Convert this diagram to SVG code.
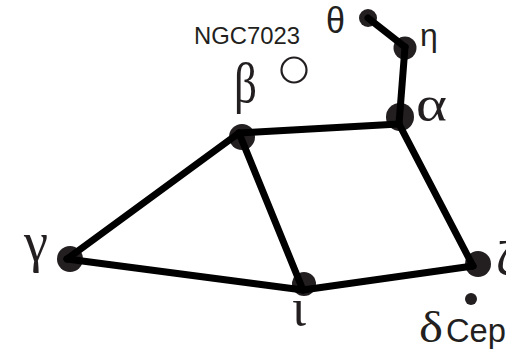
<svg xmlns="http://www.w3.org/2000/svg" width="506" height="353" viewBox="0 0 506 353">
<style>
.star{fill:#231f20}
.edge{stroke:#000;stroke-width:7;stroke-linecap:round;stroke-linejoin:round;fill:none}
.gr{font-family:"Liberation Serif","DejaVu Serif",serif;fill:#231f20}
.sn{font-family:"Liberation Sans",Arial,sans-serif;fill:#231f20}
</style>
<rect width="506" height="353" fill="#fff"/>
<g id="stars">
<g id="theta"><circle class="star" cx="368" cy="18" r="9"/><text class="sn" x="326" y="33" font-size="36" textLength="19" lengthAdjust="spacingAndGlyphs">θ</text></g>
<g id="eta"><circle class="star" cx="405" cy="48" r="11.5"/><text class="sn" x="420" y="46" font-size="32">η</text></g>
<g id="alpha"><circle class="star" cx="400" cy="117" r="14"/><text class="gr" x="416" y="121" font-size="50" textLength="31" lengthAdjust="spacingAndGlyphs">α</text></g>
<g id="beta"><circle class="star" cx="242" cy="137" r="13"/><text class="gr" x="234" y="102" font-size="56" textLength="23" lengthAdjust="spacingAndGlyphs">β</text></g>
<g id="gamma"><circle class="star" cx="70" cy="259" r="13"/><text class="gr" x="24" y="261" font-size="56" textLength="24" lengthAdjust="spacingAndGlyphs">γ</text></g>
<g id="iota"><circle class="star" cx="304" cy="284" r="12"/><text class="gr" x="292" y="325" font-size="52">ι</text></g>
<g id="zeta"><circle class="star" cx="478" cy="264" r="13"/><text class="gr" x="496" y="276" font-size="50">ζ</text></g>
<g id="delta"><circle class="star" cx="471" cy="299" r="6"/><text class="gr" x="419" y="342" font-size="45" textLength="24" lengthAdjust="spacingAndGlyphs">δ</text><text class="sn" x="446" y="342" font-size="33" textLength="60" lengthAdjust="spacingAndGlyphs">Cep</text></g>
<g id="ngc7023"><circle cx="294" cy="70" r="12.5" fill="none" stroke="#231f20" stroke-width="2.2"/><text class="sn" x="194" y="44" font-size="24" fill="#333" textLength="106" lengthAdjust="spacingAndGlyphs">NGC7023</text></g>
</g>
<g id="connectors">
<line class="edge" x1="368" y1="18" x2="405" y2="47"/>
<line class="edge" x1="405" y1="47" x2="399" y2="124"/>
<line class="edge" x1="239" y1="133" x2="399" y2="124"/>
<line class="edge" x1="399" y1="124" x2="473" y2="266"/>
<line class="edge" x1="473" y1="266" x2="303" y2="290"/>
<line class="edge" x1="303" y1="290" x2="239" y2="133"/>
<line class="edge" x1="303" y1="290" x2="67" y2="259"/>
<line class="edge" x1="67" y1="259" x2="239" y2="133"/>
</g>
</svg>
